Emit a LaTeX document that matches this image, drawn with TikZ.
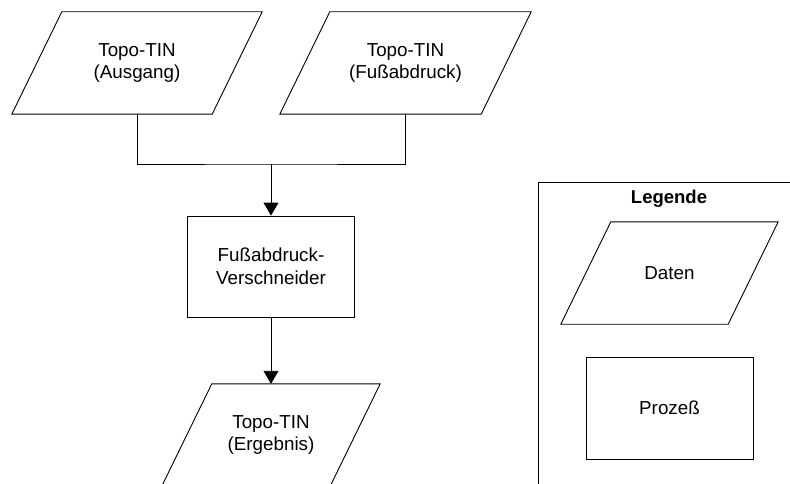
\documentclass[tikz,border=0pt]{standalone}
\usepackage{fontspec}
\setmainfont{Liberation Sans}
\usetikzlibrary{arrows.meta,calc}
\newcommand\drawdata[1]{\draw[frame] ($(#1.north west)+(25,0)$) -- ($(#1.north east)+(25,0)$) -- ($(#1.south east)+(-25,0)$) -- ($(#1.south west)+(-25,0)$) -- cycle;}
\begin{document}
\begin{tikzpicture}[x=1pt,y=-1pt,
  lbl/.style={inner sep=0pt, align=center, font=\fontsize{18.8}{22.5}\selectfont},
  frame/.style={draw=black, line width=0.9pt},
  arr/.style={frame, -{Triangle[length=13pt,width=15pt]}}]
\useasboundingbox (0,0) rectangle (790,484);
\clip (0,0) rectangle (790,484);
\fill[white] (0,0) rectangle (790,484);
% data nodes
\node[lbl, minimum width=200pt, minimum height=102pt] (a) at (137,63) {Topo-TIN\\(Ausgang)};
\node[lbl, minimum width=201pt, minimum height=102pt] (b) at (405.5,63) {Topo-TIN\\(Fußabdruck)};
\node[lbl, minimum width=168pt, minimum height=102pt] (c) at (271,435) {Topo-TIN\\(Ergebnis)};
\drawdata{a}
\drawdata{b}
\drawdata{c}
% process
\node[lbl, frame, minimum width=167pt, minimum height=101pt] (p) at (271,266.5) {Fußabdruck-\\Verschneider};
% connectors
\coordinate (j) at (271,164);
\draw[frame] (a.south) |- (j) -| (b.south);
\draw[arr] (j) -- (p.north);
\draw[arr] (p.south) -- (c.north);
% legend
\node[frame, inner sep=0pt, minimum width=262pt, minimum height=338pt] (legend) at (669,351) {};
\node[lbl, font=\bfseries\fontsize{18.5}{22}\selectfont, anchor=base] (lt) at (669,204) {Legende};
\node[lbl, minimum width=167pt, minimum height=102pt] (ld) at (669.5,273) {Daten};
\drawdata{ld}
\node[lbl, frame, minimum width=167pt, minimum height=102pt] (lp) at (669.5,408) {Prozeß};
\end{tikzpicture}
\end{document}
